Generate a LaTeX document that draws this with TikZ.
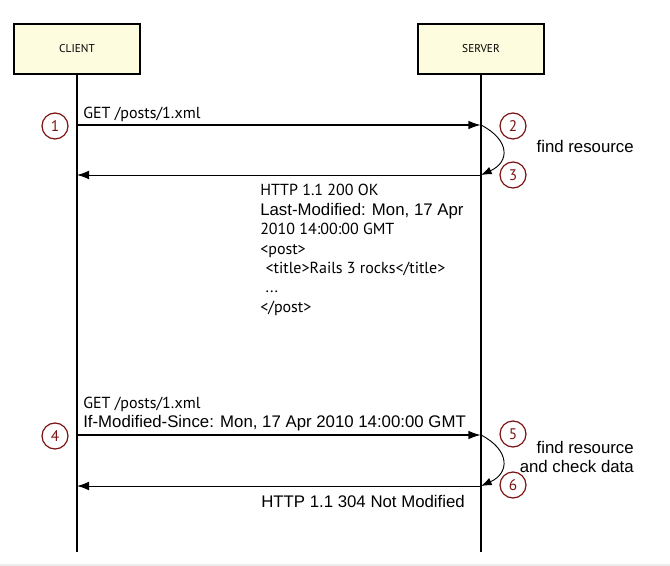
\documentclass[tikz,border=0pt]{standalone}
\usepackage{fontspec}
\setmainfont{Liberation Sans}
\newfontfamily\thinfont{PT Sans}
\usetikzlibrary{arrows.meta}
\definecolor{boxfill}{RGB}{254,252,222}
\definecolor{markred}{RGB}{125,18,18}

\begin{document}
\begin{tikzpicture}[x=0.75pt, y=-0.75pt,
  actor/.style={rectangle, draw, line width=0.9pt, fill=boxfill, minimum width=94.5pt, minimum height=37.5pt, font=\thinfont\fontsize{8.5}{10}\selectfont},
  marker/.style={circle, draw=markred, line width=0.9pt, text=markred, minimum size=19.5pt, inner sep=0pt, font=\thinfont\fontsize{11.5}{13}\selectfont},
  msg/.style={inner sep=0pt, align=left, font=\fontsize{12.6}{14.6}\selectfont},
  lifeline/.style={line width=0.8pt},
  request/.style={-{Latex[length=9.5pt,width=6.5pt]}, line width=1.4pt},
  reply/.style={-{Latex[length=9pt,width=6.5pt]}, line width=0.7pt},
  work/.style={-{Latex[length=8pt,width=6pt]}, line width=0.7pt}]
\useasboundingbox (0,0) rectangle (670,566);

\node (client) at (77,49) [actor] {CLIENT};
\node (server) at (481,49) [actor] {SERVER};
\coordinate (clientend) at (77,552);
\coordinate (serverend) at (481,552);
\draw[lifeline] (client) -- (clientend);
\draw[lifeline] (server) -- (serverend);

% first request
\coordinate (c1) at (77,125);
\coordinate (s1) at (481,125);
\coordinate (s2) at (481,175);
\coordinate (c2) at (77,175);
\draw[request] (c1) -- (s1);
\draw[work] (s1) .. controls (510,140) and (510,162) .. (s2);
\draw[reply] (s2) -- (c2);
\node (get1) at (83,119) [msg, anchor=base west] {\thinfont\fontsize{12}{14.6}\selectfont GET /posts/1.xml};
\node (find1) at (634,153) [msg, anchor=base east] {find resource};
\node (reply1) at (260,184) [msg, anchor=north west] {{\thinfont\fontsize{12}{14.6}\selectfont HTTP 1.1 200 OK}\\
Last-Modified: Mon, 17 Apr\\
{\thinfont\fontsize{12}{14.6}\selectfont 2010 14:00:00 GMT}\\
{\thinfont\fontsize{12}{14.6}\selectfont <post>}\\
{\thinfont\fontsize{12}{14.6}\selectfont \hspace*{4pt}<title>Rails 3 rocks</title>}\\
{\thinfont\fontsize{12}{14.6}\selectfont \hspace*{4pt}...}\\
{\thinfont\fontsize{12}{14.6}\selectfont </post>}};

\node (m1) at (55,126) [marker] {1};
\node (m2) at (513,126) [marker] {2};
\node (m3) at (513,175) [marker] {3};

% second request
\coordinate (c3) at (77,435);
\coordinate (s3) at (481,435);
\coordinate (s4) at (481,486);
\coordinate (c4) at (77,486);
\draw[request] (c3) -- (s3);
\draw[work] (s3) .. controls (510,450) and (510,473) .. (s4);
\draw[reply] (s4) -- (c4);
\node (get2) at (83,408) [msg, anchor=base west] {\thinfont\fontsize{12}{14.6}\selectfont GET /posts/1.xml};
\node (since2) at (83,427) [msg, anchor=base west] {If-Modified-Since: Mon, 17 Apr 2010 14:00:00 GMT};
\node (find2) at (634,441) [msg, anchor=north east, align=right] {find resource\\
and check data};
\node (reply2) at (261,507) [msg, anchor=base west] {HTTP 1.1 304 Not Modified};

\node (m4) at (55,436) [marker] {4};
\node (m5) at (513,434) [marker] {5};
\node (m6) at (513,485) [marker] {6};

\draw[gray!15, line width=1.5pt] (0,565) -- (670,565);
\end{tikzpicture}
\end{document}
